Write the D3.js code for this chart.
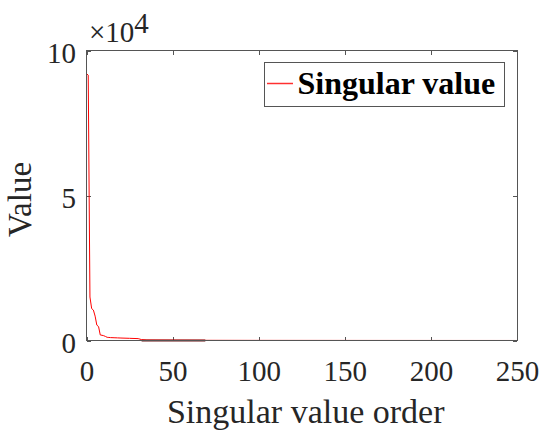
<!DOCTYPE html>
<html>
<head>
<meta charset="utf-8">
<script src="https://cdn.jsdelivr.net/npm/d3@7"></script>
<style>
  body { margin: 0; background: #fff; }
  svg text { font-family: "Times New Roman", "Liberation Serif", Tinos, serif; fill: #262626; }
</style>
</head>
<body>
<svg id="chart" width="550" height="441"></svg>
<script>
// DATA
// singular value index (x) and singular value (y)
var orders = [0, 1, 2, 3, 4, 5, 6, 7, 8, 9, 10, 11, 12, 13, 14, 16, 18, 20, 25, 30, 32, 35, 50, 69, 100, 150, 200, 250];
var values = [92000, 91500, 15000, 11000, 10500, 8400, 5300, 4800, 1900, 1800, 1650, 1400, 1100, 1050, 1000, 950, 900, 850, 750, 650, 300, 150, 100, 60, 40, 25, 15, 5];

// short darker overlay near the baseline
var darkOrders = [32, 69];
var darkValues = [0, 0];

var xTicks = [0, 50, 100, 150, 200, 250];
var yTicks = [0, 50000, 100000];
var yTickLabels = ['0', '5', '10'];

var legendLabel = 'Singular value';
var xLabel = 'Singular value order';
var yLabel = 'Value';

// SETUP
var svg = d3.select('#chart');

var box = { left: 86.5, right: 517, top: 50.5, bottom: 340.5 };
var axisColor = '#555';

var x = d3.scaleLinear().domain([0, 250]).range([box.left, box.right]);
var y = d3.scaleLinear().domain([0, 100000]).range([box.bottom, box.top]);

/**
 * Axes (MATLAB style: inward ticks on all four sides)
 */
var xAxis = d3.axisBottom(x)
  .tickValues(xTicks)
  .tickSizeInner(-4)
  .tickSizeOuter(0)
  .tickPadding(20);

var yAxis = d3.axisLeft(y)
  .tickValues(yTicks)
  .tickFormat(function (d, i) { return yTickLabels[i]; })
  .tickSizeInner(-4)
  .tickSizeOuter(0)
  .tickPadding(10.5);

var gx = svg.append('g')
  .attr('transform', 'translate(0,' + box.bottom + ')')
  .call(xAxis);
gx.selectAll('text').style('font-size', '29px').attr('font-family', null);

var gy = svg.append('g')
  .attr('transform', 'translate(' + box.left + ',0)')
  .call(yAxis);
gy.selectAll('text').style('font-size', '29px').attr('dy', '0.43em');

// top and right ticks without labels
svg.append('g')
  .attr('transform', 'translate(0,' + box.top + ')')
  .call(d3.axisTop(x).tickValues(xTicks).tickSizeInner(-4).tickSizeOuter(0).tickFormat(''));
svg.append('g')
  .attr('transform', 'translate(' + box.right + ',0)')
  .call(d3.axisRight(y).tickValues(yTicks).tickSizeInner(-4).tickSizeOuter(0).tickFormat(''));

// d3 axes set their own font-family on the group; drop it so the css applies
svg.selectAll('g').attr('font-family', null).attr('font-size', null);
svg.selectAll('.domain').remove();
svg.selectAll('.tick line')
  .attr('stroke', axisColor)
  .attr('shape-rendering', 'crispEdges');

// exponent label at the top of the y axis
var expText = svg.append('text')
  .attr('x', 89)
  .attr('y', 41.5)
  .style('font-size', '29px');
expText.append('tspan').text('\u00d710');
expText.append('tspan').attr('dy', -8.5).text('4');

/**
 * Lines
 */
var line = d3.line()
  .x(function (d) { return x(d[0]); })
  .y(function (d) { return y(d[1]); });

var clip = svg.append('clipPath').attr('id', 'plot-clip');
clip.append('rect')
  .attr('x', box.left)
  .attr('y', box.top)
  .attr('width', box.right - box.left)
  .attr('height', box.bottom - box.top + 1);

svg.append('path')
  .datum(d3.zip(darkOrders, darkValues))
  .attr('d', line)
  .attr('fill', 'none')
  .attr('stroke', '#6a1414')
  .attr('stroke-width', 2);

svg.append('path')
  .datum(d3.zip(orders, values))
  .attr('clip-path', 'url(#plot-clip)')
  .attr('d', line)
  .attr('fill', 'none')
  .attr('stroke', '#ff0000')
  .attr('stroke-width', 1);

// axes box on top of the data
svg.append('rect')
  .attr('x', box.left)
  .attr('y', box.top)
  .attr('width', box.right - box.left)
  .attr('height', box.bottom - box.top)
  .attr('fill', 'none')
  .attr('stroke', axisColor)
  .attr('stroke-width', 1)
  .attr('shape-rendering', 'crispEdges');

/**
 * Legend
 */
var legend = svg.append('g').attr('class', 'legend');
legend.append('rect')
  .attr('x', 264.5)
  .attr('y', 62.5)
  .attr('width', 240)
  .attr('height', 43.5)
  .attr('fill', '#fff')
  .attr('stroke', axisColor)
  .attr('shape-rendering', 'crispEdges');
legend.append('line')
  .attr('x1', 267)
  .attr('x2', 293)
  .attr('y1', 83.5)
  .attr('y2', 83.5)
  .attr('stroke', '#ff3030')
  .attr('stroke-width', 1.5);
legend.append('text')
  .attr('x', 297.5)
  .attr('y', 94)
  .style('font-size', '32px')
  .style('font-weight', 'bold')
  .style('fill', '#000')
  .text(legendLabel);

/**
 * Axis titles
 */
svg.append('text')
  .attr('x', (box.left + box.right) / 2 + 4)
  .attr('y', 422.5)
  .attr('text-anchor', 'middle')
  .style('font-size', '34px')
  .text(xLabel);

svg.append('text')
  .attr('transform', 'translate(31,' + ((box.top + box.bottom) / 2 + 4) + ') rotate(-90)')
  .attr('text-anchor', 'middle')
  .style('font-size', '33px')
  .text(yLabel);
</script>
</body>
</html>
